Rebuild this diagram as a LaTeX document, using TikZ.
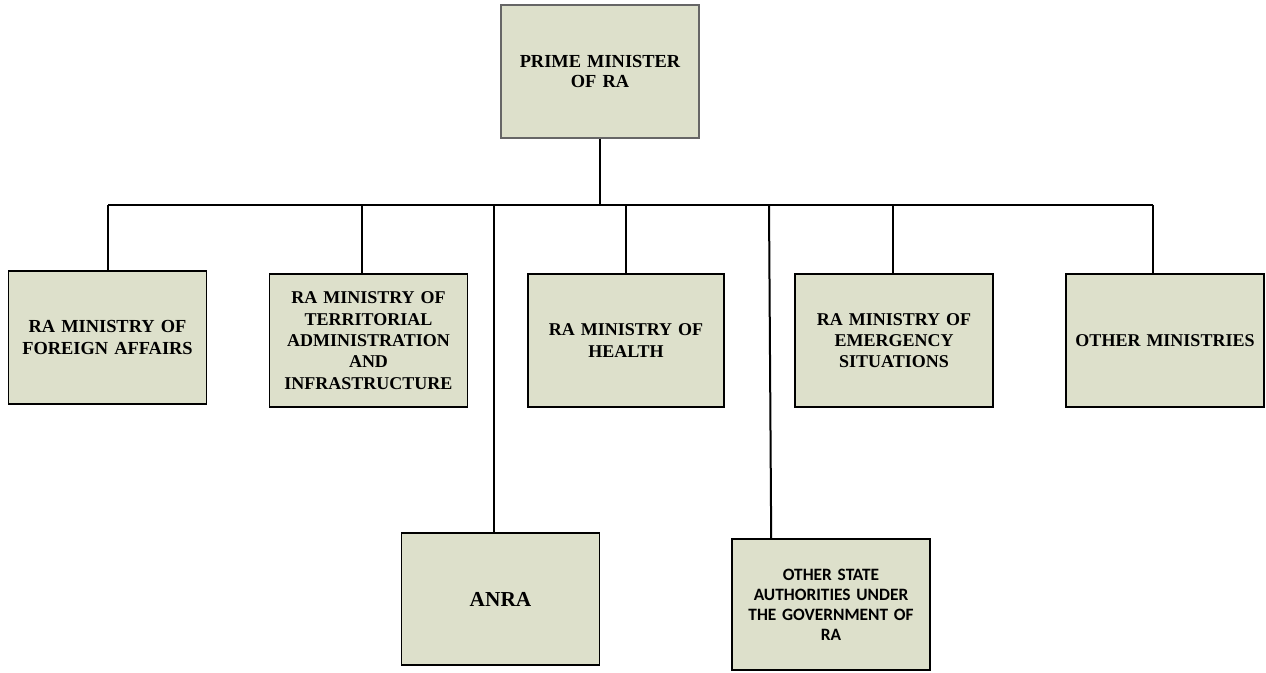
\documentclass[tikz,border=0pt]{standalone}
\usepackage{fontspec}
\setmainfont{Liberation Serif}
\newfontfamily\calib{Carlito}
\definecolor{boxfill}{RGB}{221,224,203}
\tikzset{
  orgbox/.style={draw=black, line width=1.2pt, fill=boxfill, rectangle, inner sep=2pt,
    align=center, font=\fontsize{13.5}{16}\selectfont\bfseries, text width=142pt,
    minimum width=148.5pt, minimum height=99.75pt},
  link/.style={line width=1.5pt, draw=black}
}
\begin{document}
\begin{tikzpicture}[x=0.75pt,y=-0.75pt]
\useasboundingbox (0,0) rectangle (1266,673);
% nodes
\node[orgbox, draw=black!60, line width=0.8pt, font=\fontsize{13.8}{15}\selectfont\bfseries] (pm) at (600,71.5) {PRIME MINISTER\\OF RA};
\node[orgbox, font=\fontsize{13.8}{17}\selectfont\bfseries] (fa) at (107.5,337.5) {RA MINISTRY OF\\FOREIGN AFFAIRS};
\node[orgbox] (terr) at (368.5,340.5) {RA MINISTRY OF\\TERRITORIAL\\ADMINISTRATION\\AND\\INFRASTRUCTURE};
\node[orgbox, minimum width=147pt] (health) at (626,340.5) {RA MINISTRY OF\\HEALTH};
\node[orgbox] (emerg) at (894,340.5) {RA MINISTRY OF\\EMERGENCY\\SITUATIONS};
\node[orgbox] (other) at (1165,340.5) {OTHER MINISTRIES};
\node[orgbox, minimum height=99pt, font=\fontsize{16}{18}\selectfont\bfseries] (anra) at (500.5,599) {ANRA};
\node[orgbox, minimum height=98.25pt, font=\calib\fontsize{13}{15}\selectfont\bfseries] (ost) at (831,604.5) {OTHER STATE\\AUTHORITIES UNDER\\THE GOVERNMENT OF\\RA};
% bus junctions
\coordinate (bus) at (600,205);
\coordinate (j1) at (108,205);
\coordinate (j2) at (362,205);
\coordinate (j3) at (494,205);
\coordinate (j4) at (626,205);
\coordinate (j5) at (769,205);
\coordinate (j6) at (893,205);
\coordinate (j7) at (1153,205);
% connectors
\draw[link] (pm.south) -- (bus);
\draw[link] (j1) -- (j7);
\draw[link] (j1) -- (j1 |- fa.north);
\draw[link] (j2) -- (j2 |- terr.north);
\draw[link] (j3) -- (j3 |- anra.north);
\draw[link] (j4) -- (health.north);
\draw[link] (j5) -- ([xshift=30pt]ost.north west);
\draw[link] (j6) -- (j6 |- emerg.north);
\draw[link] (j7) -- (j7 |- other.north);
\end{tikzpicture}
\end{document}
